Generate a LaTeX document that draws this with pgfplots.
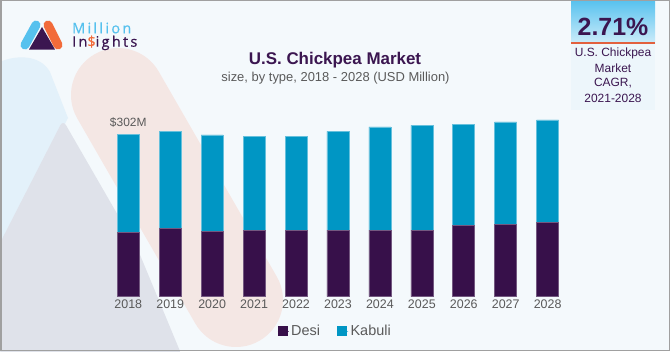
\documentclass[border=0pt]{standalone}
\usepackage{fontspec}
\setmainfont{Liberation Sans}
\newfontfamily\logofont{Open Sans}[LetterSpace=16, FakeBold=0.6]
\usepackage{pgfplots}
\pgfplotsset{compat=1.18}
\definecolor{desi}{HTML}{37104A}
\definecolor{kabuli}{HTML}{0096C4}
\definecolor{titlec}{HTML}{3B1650}
\definecolor{grayt}{HTML}{5A5A5A}
\definecolor{bg}{HTML}{F4F9FC}
\definecolor{lblue}{HTML}{E3F1FA}
\definecolor{lgray}{HTML}{DFE2EA}
\definecolor{lpink}{HTML}{F4E7E4}
\definecolor{orng}{HTML}{E2603E}
\definecolor{logoblue}{HTML}{56C1EE}
\definecolor{logoorange}{HTML}{F26B3A}
\definecolor{boxpale}{HTML}{EDF6FB}
\definecolor{framec}{HTML}{A0A0A0}
\begin{document}
\begin{tikzpicture}[x=1bp,y=1bp]
\useasboundingbox (0,0) rectangle (670,351);
\fill[bg] (0,0) rectangle (670,351);
\begin{scope}
\clip (0,0) rectangle (670,351);
\fill[lblue] (0,289) .. controls (15,296) and (40,297) .. (50,279) -- (68,233) -- (0,101) -- cycle;
\fill[lgray, rounded corners=6] (63,231) -- (0,108) -- (0,-5) -- (182,-5) -- (138,101) -- cycle;
\draw[lpink, line width=94bp, line cap=round] (118,256) -- (236,51);
\end{scope}
% CAGR box
\shade[top color=logoblue, bottom color=logoblue!30!white] (571,351) rectangle (655,308);
\fill[boxpale] (571,308) rectangle (655,241);
\draw[orng, line width=1.2bp] (571,308) -- (655,308);
\node[font=\bfseries\fontsize{25}{25}\selectfont, text=titlec] at (613,324) {2.71\%};
\node[font=\fontsize{12}{12}\selectfont, text=titlec] at (613,297.7) {U.S. Chickpea};
\node[font=\fontsize{12}{12}\selectfont, text=titlec] at (613,282.5) {Market};
\node[font=\fontsize{12}{12}\selectfont, text=titlec] at (613,267.5) {CAGR,};
\node[font=\fontsize{12}{12}\selectfont, text=titlec] at (613,252.7) {2021-2028};
% logo
\draw[logoblue, line width=9bp, line cap=round] (25,306) -- (36,326);
\draw[logoorange, line width=9bp, line cap=round] (48,326) -- (58,306);
\fill[titlec] (29,301.5) -- (42,324) -- (55,301.5) -- cycle;
\node[anchor=base west, inner sep=0pt, font=\logofont\fontsize{14.5}{14.5}\selectfont, text=logoblue] at (72,317.7) {Million};
\node[anchor=base west, inner sep=0pt, font=\logofont\fontsize{14.5}{14.5}\selectfont, text=titlec] at (72,304.3) {In\textcolor{logoorange}{\$}ights};
% titles
\node[font=\bfseries\fontsize{17}{17}\selectfont, text=titlec] at (335,291) {U.S. Chickpea Market};
\node[font=\fontsize{13}{13}\selectfont, text=grayt] at (335.5,273.3) {size, by type, 2018 - 2028 (USD Million)};
\begin{axis}[
  at={(103.1bp,54.3bp)}, anchor=south west, scale only axis,
  width=469.7bp, height=193.6bp,
  xmin=-0.6, xmax=10.6, ymin=0, ymax=360,
  ybar stacked, bar width=22bp,
  axis line style={draw=none}, tick style={draw=none}, major tick length=0pt,
  ytick=\empty,
  xtick=data,
  xticklabels={2018,2019,2020,2021,2022,2023,2024,2025,2026,2027,2028},
  xticklabel style={font=\fontsize{12.5}{12.5}\selectfont, text=grayt},
  clip=false,
  legend style={draw=none, fill=none, legend columns=2,
    at={(axis description cs:0.494,-0.178)}, anchor=center,
    font=\fontsize{14.5}{14.5}\selectfont, text=grayt,
    /tikz/every even column/.append style={column sep=15bp}},
]
\addplot[fill=desi, draw=desi!70!white, line width=0.6bp,
  legend image code/.code={\path (0bp,0bp) -- (11bp,0bp);\fill[desi] (0bp,-4.5bp) rectangle (9bp,4.5bp);}]
  coordinates {(0,119) (1,127.2) (2,122) (3,124) (4,124) (5,124) (6,124) (7,124) (8,132) (9,134.6) (10,138.3)};
\addplot[fill=kabuli, draw=kabuli!60!white, line width=0.6bp,
  legend image code/.code={\path (0bp,0bp) -- (11bp,0bp);\fill[kabuli] (0bp,-4.5bp) rectangle (9bp,4.5bp);}]
  coordinates {(0,183) (1,180.4) (2,179) (3,174) (4,174) (5,183.6) (6,191.6) (7,194.7) (8,189) (9,190.4) (10,190.3)};
\legend{Desi,Kabuli}
\node[anchor=south, font=\fontsize{12}{12}\selectfont, text=grayt, yshift=3bp] at (axis cs:0,302) {\$302M};
\end{axis}
\draw[framec, line width=1.5bp] (0.75,0.75) rectangle (669.25,350.25);
\end{tikzpicture}
\end{document}
